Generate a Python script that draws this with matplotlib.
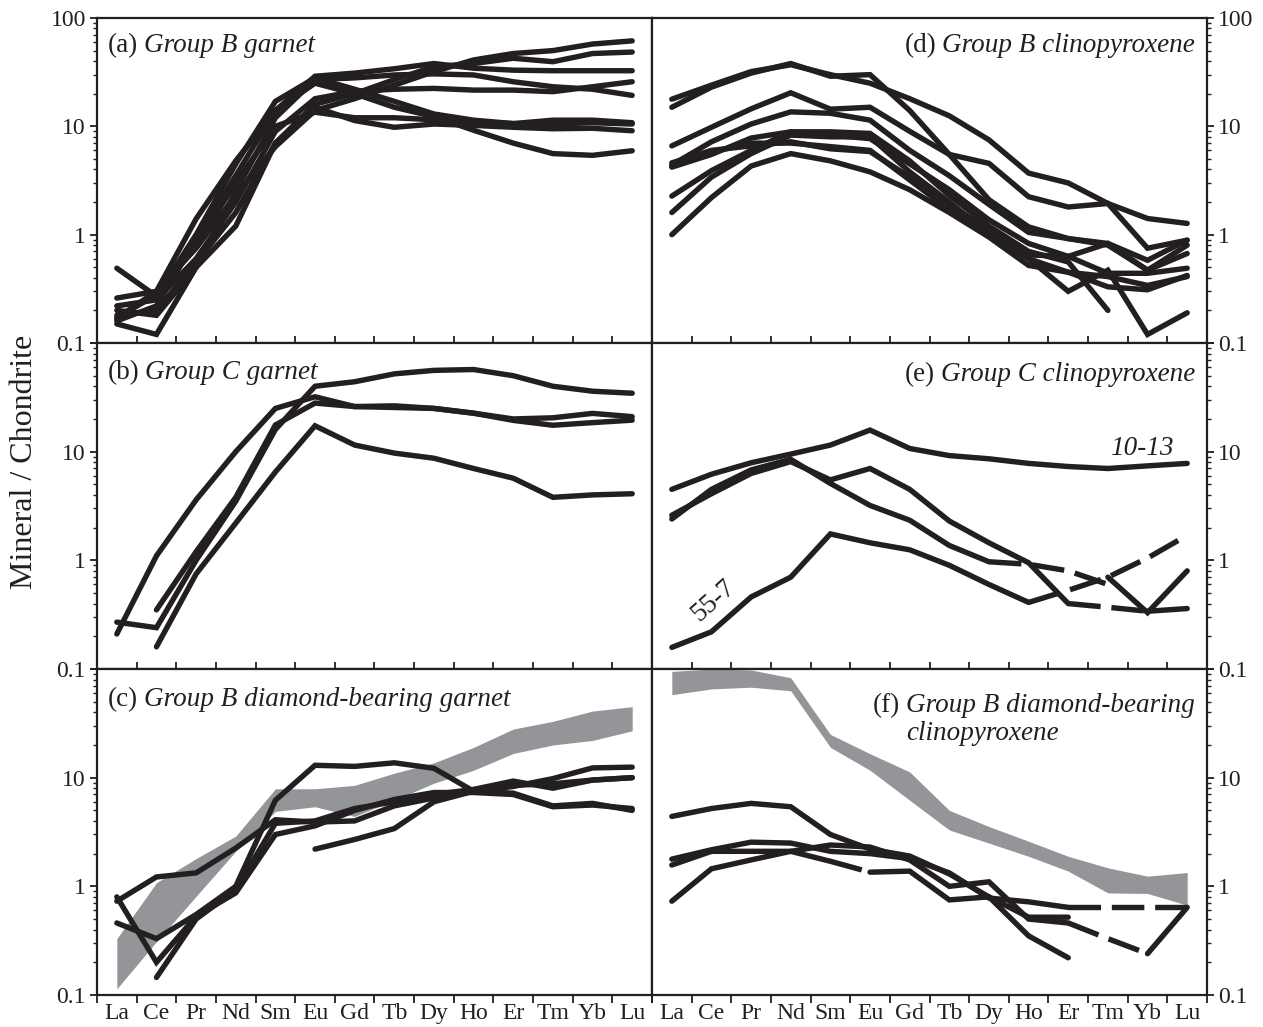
import numpy as np
import matplotlib
matplotlib.use("Agg")
import matplotlib.pyplot as plt
from matplotlib.ticker import FixedLocator, FixedFormatter, LogLocator, NullFormatter

plt.rcParams['font.family'] = ['Liberation Serif', 'DejaVu Serif']

INK = '#231f20'
BAND = '#939598'
nan = np.nan

elements = ['La', 'Ce', 'Pr', 'Nd', 'Sm', 'Eu', 'Gd', 'Tb', 'Dy', 'Ho', 'Er', 'Tm', 'Yb', 'Lu']

# (a) Group B garnet
garnet_b = [
    [0.17, 0.30, 0.75, 2.3, 6.5, 14, 18, 24, 32, 41, 47, 50, 57.5, 61.5],
    [0.18, 0.20, 0.55, 1.6, 7.0, 16, 20, 27, 35.5, 38, 42.5, 39.5, 47, 48.5],
    [0.16, 0.22, 0.90, 3.5, 14, 29, 31, 34, 38, 34.4, 33, 32.6, 32.6, 32.6],
    [0.22, 0.25, 0.60, 2.0, 9.0, 18, 21, 22, 22.4, 21.6, 21.6, 20.9, 23.2, 25.8],
    [0.15, 0.12, 0.50, 2.5, 12, 27, 28, 29.8, 30.5, 29.8, 25.8, 23.2, 22, 19.3],
    [0.49, 0.27, 1.0, 4.5, 17, 28, 22, 17, 13, 11.4, 10.6, 11.4, 11.4, 10.8],
    [0.26, 0.30, 1.4, 4.8, 14, 25, 20, 15, 12.3, 9.2, 7.0, 5.6, 5.4, 5.95],
    [0.20, 0.18, 0.50, 1.2, 7.0, 15, 11.3, 9.8, 10.5, 10.2, 9.8, 9.5, 9.6, 9.1],
    [0.17, 0.28, 0.80, 3.0, 10, 13.5, 12, 12, 11.5, 11, 10.6, 10.5, 10.8, 10.5],
]

# (b) Group C garnet
garnet_c = [
    [0.21, 1.1, 3.6, 10, 25, 32, 26, 26.4, 25, 22.6, 20, 20.5, 22.5, 21],
    [0.27, 0.24, 1.0, 3.5, 16, 40, 44, 52, 56, 57, 50, 40, 36, 34.5],
    [nan, 0.35, 1.2, 3.8, 17.6, 28, 26, 25.5, 25, 22.6, 19.4, 17.5, 18.5, 19.5],
    [nan, 0.16, 0.75, 2.2, 6.5, 17.3, 11.5, 9.7, 8.7, 7.0, 5.7, 3.8, 4.0, 4.1],
]

# (c) Group B diamond-bearing garnet
garnet_dia = [
    [0.73, 1.22, 1.33, 2.25, 4.1, 3.9, 4.0, 5.5, 6.5, 7.5, 8.5, 8.8, 9.5, 10],
    [0.46, 0.33, 0.55, 1.0, 6.2, 13, 12.7, 13.7, 12.2, 7.5, 7.2, 5.5, 5.8, 5.0],
    [0.80, 0.20, 0.53, 0.87, 3.0, 3.6, 5.0, 6.3, 7.3, 7.3, 7.0, 5.4, 5.6, 5.2],
    [nan, 0.145, 0.50, 0.93, 3.8, 4.0, 5.2, 6.0, 7.0, 7.8, 9.3, 8.0, 9.5, 10],
    [nan, nan, nan, nan, nan, 2.2, 2.7, 3.4, 6.0, 7.5, 8.3, 9.8, 12.3, 12.5],
]
garnet_dia_band_hi = [0.33, 1.08, 1.8, 2.9, 7.9, 7.9, 8.5, 11, 13.7, 19, 28, 33, 41, 45]
garnet_dia_band_lo = [0.114, 0.31, 0.81, 2.1, 4.9, 5.4, 4.4, 6.2, 8.9, 11.7, 16.7, 20, 22, 27]

# (d) Group B clinopyroxene
cpx_b = [
    [17.8, 24, 32, 37, 30, 25, 18, 12.5, 7.5, 3.7, 3.0, 1.94, 1.41, 1.27],
    [15.0, 23, 31, 38, 29, 30, 14, 5.5, 2.1, 1.18, 0.92, 0.83, 0.58, 0.89],
    [6.6, 9.8, 14.5, 20.4, 14.4, 15, 9.0, 5.5, 4.55, 2.24, 1.8, 1.94, 0.75, 0.89],
    [4.4, 7.2, 10.5, 13.6, 13.2, 11.4, 6.0, 3.5, 1.9, 1.05, 0.92, 0.8, 0.47, 0.8],
    [4.6, 6.0, 6.6, 7.2, 6.2, 5.85, 3.4, 1.9, 1.1, 0.6, 0.45, 0.41, 0.34, 0.41],
    [4.2, 5.5, 7.8, 8.9, 8.3, 7.7, 4.5, 2.6, 1.37, 0.83, 0.63, 0.44, 0.44, 0.49],
    [2.27, 3.9, 6.0, 8.9, 8.9, 8.6, 4.8, 2.3, 1.2, 0.7, 0.56, 0.2, nan, nan],
    [1.6, 3.4, 5.6, 8.3, 8.0, 8.0, 3.8, 2.0, 1.0, 0.6, 0.30, 0.47, 0.12, 0.19],
    [1.0, 2.2, 4.3, 5.6, 4.8, 3.8, 2.6, 1.6, 0.95, 0.52, 0.45, 0.33, 0.31, 0.42],
    [4.3, 5.8, 7.0, 7.0, 6.5, 6.0, 3.2, 1.7, 1.0, 0.65, 0.63, 0.83, 0.47, 0.67],
]

# (e) Group C clinopyroxene: each sample is a list of (style, first index, values)
cpx_c = [
    [('-', 0, [4.5, 6.2, 7.9, 9.5, 11.5, 15.8, 10.7, 9.2, 8.6, 7.8, 7.3, 7.0, 7.4, 7.8])],
    [('-', 0, [2.6, 4.1, 6.3, 8.1, 5.5, 7.0, 4.5, 2.3, 1.45, 0.95, 0.40]),
     ('--', 10, [0.40, 0.37, 0.34]),
     ('-', 12, [0.34, 0.36])],
    [('-', 0, [2.4, 4.5, 6.8, 8.5, 5.1, 3.2, 2.34, 1.37, 0.97]),
     ('--', 8, [0.97, 0.92, 0.80, 0.60]),
     ('-', 11, [0.70, 0.33, 0.80])],
    [('-', 0, [0.158, 0.22, 0.46, 0.70, 1.75, 1.45, 1.25, 0.90, 0.60, 0.41]),
     ('--', 9, [0.41, 0.53, 0.70, 1.05, 1.7])],
]

# (f) Group B diamond-bearing clinopyroxene
cpx_dia = [
    [('-', 0, [4.4, 5.2, 5.8, 5.4, 3.0, 2.2, 1.9, 1.3, 0.80, 0.35, 0.22])],
    [('-', 0, [1.78, 2.17, 2.55, 2.5, 2.1, 2.0, 1.8, 1.33, 0.78, 0.72, 0.64]),
     ('--', 10, [0.64, 0.64, 0.64, 0.64])],
    [('-', 0, [1.57, 2.1, 2.1, 2.1, 1.7]),
     ('--', 4, [1.7, 1.35]),
     ('-', 5, [1.35, 1.38, 0.75, 0.80, 0.52, 0.52])],
    [('-', 0, [0.73, 1.45, 1.75, 2.1, 2.4, 2.3, 1.75, 1.0, 1.1, 0.50, 0.46]),
     ('--', 10, [0.46, 0.33, 0.24]),
     ('-', 12, [0.24, 0.64])],
]
cpx_dia_band_hi = [95, 100, 98, 83, 25, 16.6, 11.3, 5.0, 3.55, 2.6, 1.89, 1.48, 1.24, 1.34]
cpx_dia_band_lo = [58, 65.6, 68, 63, 19, 11.7, 6.2, 3.3, 2.5, 1.89, 1.38, 0.87, 0.86, 0.67]

W, H = 1263, 1027
fig = plt.figure(figsize=(W / 100, H / 100), dpi=100)

LW = 3.9
FS_TICK = 17
FS_TITLE = 19.5
x = np.arange(len(elements))


def make_axes(left_px, top_px, bottom_px):
    return fig.add_axes([left_px / W, 1 - bottom_px / H,
                         555 / W, (bottom_px - top_px) / H])


rows = [(18, 343), (343, 669), (669, 995)]
axes = {}
for r, (t, b) in enumerate(rows):
    axes[(r, 0)] = make_axes(97, t, b)
    axes[(r, 1)] = make_axes(652, t, b)

for (r, c), ax in axes.items():
    ax.set_yscale('log')
    ax.set_ylim(0.1, 100)
    ax.set_xlim(-0.5, 13.5)
    for s in ax.spines.values():
        s.set_linewidth(1.6)
        s.set_color(INK)
    # element ticks
    ax.xaxis.set_major_locator(FixedLocator(x))
    ax.xaxis.set_minor_locator(FixedLocator(np.arange(-0.5, 14, 1.0)))
    if r == 2:
        ax.set_xticklabels(elements, fontsize=FS_TICK, color=INK)
        ax.tick_params(axis='x', which='minor', direction='out', length=6, width=1.3, color=INK)
    else:
        ax.set_xticklabels([])
        ax.tick_params(axis='x', which='minor', direction='in', length=5, width=1.3, color=INK)
    ax.tick_params(axis='x', which='major', length=0, pad=6)
    # concentration ticks
    ax.yaxis.set_major_locator(FixedLocator([0.1, 1, 10, 100]))
    labs = ['0.1', '1', '10', '100'] if r == 0 else ['0.1', '1', '10', '']
    ax.yaxis.set_major_formatter(FixedFormatter(labs))
    ax.yaxis.set_minor_locator(LogLocator(base=10, subs=np.arange(2, 10)))
    ax.yaxis.set_minor_formatter(NullFormatter())
    if c == 0:
        ax.yaxis.tick_left()
    else:
        ax.yaxis.tick_right()
    ax.tick_params(axis='y', which='major', direction='out', length=5, width=1.3,
                   labelsize=FS_TICK, labelcolor=INK, color=INK, pad=3)
    ax.tick_params(axis='y', which='minor', direction='out', length=3, width=1.0, color=INK)


def plot_simple(ax, series):
    for vals in series:
        ax.plot(x, vals, color=INK, lw=LW, solid_capstyle='round', solid_joinstyle='miter')


def plot_segments(ax, series):
    for sample in series:
        for style, i0, vals in sample:
            xs = x[i0:i0 + len(vals)]
            if style == '--':
                ax.plot(xs, vals, color=INK, lw=LW, linestyle=(0, (6.0, 2.0)),
                        dash_capstyle='butt')
            else:
                ax.plot(xs, vals, color=INK, lw=LW, solid_capstyle='round',
                        solid_joinstyle='miter')


def title_left(ax, tag, name, y=0.895):
    t1 = ax.text(0.02, y, tag, transform=ax.transAxes, ha='left', va='baseline',
                 fontsize=FS_TITLE, color=INK)
    ax.annotate(name, xy=(1, 0), xycoords=t1, xytext=(4.0, 0), textcoords='offset points',
                ha='left', va='bottom', fontsize=FS_TITLE, style='italic', color=INK)


def title_right(ax, tag, name, y=0.895):
    t2 = ax.text(0.978, y, name, transform=ax.transAxes, ha='right', va='baseline',
                 fontsize=FS_TITLE, style='italic', color=INK)
    ax.annotate(tag, xy=(0, 0), xycoords=t2, xytext=(-4.0, 0), textcoords='offset points',
                ha='right', va='bottom', fontsize=FS_TITLE, color=INK)
    return t2


# (a)
ax = axes[(0, 0)]
plot_simple(ax, garnet_b)
title_left(ax, '(a)', 'Group B garnet')

# (b)
ax = axes[(1, 0)]
plot_simple(ax, garnet_c)
title_left(ax, '(b)', 'Group C garnet', y=0.89)

# (c)
ax = axes[(2, 0)]
ax.fill_between(x, garnet_dia_band_lo, garnet_dia_band_hi, color=BAND, lw=0, zorder=1)
plot_simple(ax, garnet_dia)
title_left(ax, '(c)', 'Group B diamond-bearing garnet', y=0.885)

# (d)
ax = axes[(0, 1)]
plot_simple(ax, cpx_b)
title_right(ax, '(d)', 'Group B clinopyroxene')

# (e)
ax = axes[(1, 1)]
plot_segments(ax, cpx_c)
title_right(ax, '(e)', 'Group C clinopyroxene', y=0.882)
ax.text(11.85, 10.6, '10-13', ha='center', va='center', fontsize=FS_TITLE,
        style='italic', color=INK)
ax.text(1.05, 0.43, '55-7', ha='center', va='center', fontsize=FS_TITLE,
        rotation=42, color=INK)

# (f)
ax = axes[(2, 1)]
ax.fill_between(x, cpx_dia_band_lo, cpx_dia_band_hi, color=BAND, lw=0, zorder=1)
plot_segments(ax, cpx_dia)
t2 = title_right(ax, '(f)', 'Group B diamond-bearing', y=0.869)
ax.annotate('clinopyroxene', xy=(0, 0), xycoords=t2, xytext=(0, -20.5),
            textcoords='offset points', ha='left', va='bottom', fontsize=FS_TITLE,
            style='italic', color=INK)

fig.text(25 / W, 1 - 462 / H, 'Mineral / Chondrite', rotation=90, ha='center', va='center',
         fontsize=23, color=INK)

fig.savefig('out.png', dpi=100)
